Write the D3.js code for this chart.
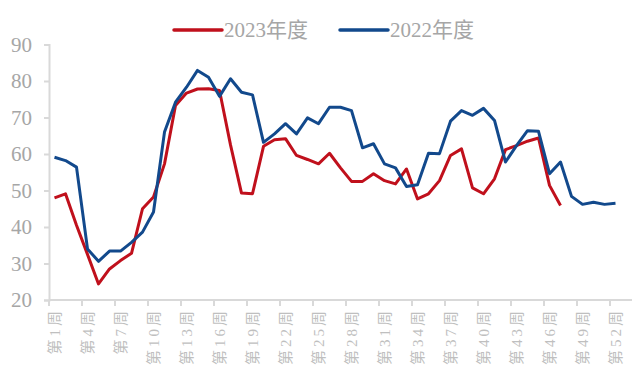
<!DOCTYPE html>
<html>
<head>
<meta charset="utf-8">
<script src="https://cdn.jsdelivr.net/npm/d3@7"></script>
<style>
	body { margin: 0; background: #fff; }
	text { font-family: "Liberation Serif", "Noto Sans CJK SC", serif; }
</style>
</head>
<body>
<svg id="chart" width="643" height="370"></svg>
<script>
// weekly values, 53 weeks on the axis
const weeks = d3.range(1, 54);
const weekLabels = weeks.map(w => `第${w}周`);
const labelWeeks = [1, 4, 7, 10, 13, 16, 19, 22, 25, 28, 31, 34, 37, 40, 43, 46, 49, 52];
const yTicks = [20, 30, 40, 50, 60, 70, 80, 90];

const series2023 = [48.0, 49.1, 40.5, 32.5, 24.4, 28.5, 30.8, 32.8, 45.0, 48.2,
	57.3, 73.3, 76.7, 77.8, 77.9, 77.4, 62.5, 49.3, 49.1, 62.1,
	63.9, 64.2, 59.6, 58.5, 57.3, 60.2, 56.2, 52.5, 52.5, 54.6,
	52.7, 51.8, 55.9, 47.7, 49.1, 52.7, 59.6, 61.4, 50.7, 49.1,
	53.2, 61.2, 62.3, 63.5, 64.4, 51.4, 45.9];
const series2022 = [59.1, 58.2, 56.4, 34.0, 30.6, 33.4, 33.4, 35.8, 38.6, 44.1,
	66.0, 74.2, 78.3, 82.9, 81.0, 75.8, 80.6, 76.9, 76.2, 63.2,
	65.5, 68.3, 65.5, 69.9, 68.3, 72.8, 72.8, 71.9, 61.7, 62.8,
	57.3, 56.2, 51.1, 51.6, 60.2, 60.1, 69.0, 71.9, 70.6, 72.5,
	69.2, 57.8, 62.3, 66.4, 66.2, 54.6, 57.8, 48.4, 46.2, 46.8,
	46.2, 46.5];
const seriesNames = ["2023年度", "2022年度"];
const seriesColors = ["#c0101c", "#12498c"];

whenReady(() => {
	const svg = d3.select("#chart");
	const axisColor = "#d9d9d9";

	const x = d3.scaleBand().domain(weeks).range([49, 632]).padding(0);
	const y = d3.scaleLinear().domain([20, 90]).range([300, 44.5]);

	// y axis
	const yAxis = svg.append("g")
		.attr("transform", "translate(49,0)")
		.call(d3.axisLeft(y).tickValues(yTicks).tickSize(5).tickPadding(12));
	yAxis.select(".domain").attr("stroke", axisColor).attr("stroke-width", 2);
	yAxis.selectAll(".tick line").attr("stroke", axisColor).attr("stroke-width", 2);
	yAxis.selectAll(".tick text")
		.attr("fill", "#a6a6a6")
		.style("font-size", "21px");

	// x axis line + tick marks on category boundaries every 3 weeks
	const xAxis = svg.append("g").attr("transform", "translate(0,300)");
	xAxis.append("line")
		.attr("x1", x.range()[0]).attr("x2", x.range()[1])
		.attr("stroke", axisColor).attr("stroke-width", 2);
	xAxis.selectAll("line.tk")
		.data(labelWeeks)
		.join("line")
		.attr("class", "tk")
		.attr("x1", d => x(d)).attr("x2", d => x(d))
		.attr("y1", 0).attr("y2", 6)
		.attr("stroke", axisColor).attr("stroke-width", 2);
	xAxis.selectAll("text")
		.data(labelWeeks)
		.join("text")
		.attr("transform", d => `translate(${x(d) + x.bandwidth() / 2},8) rotate(-90)`)
		.attr("text-anchor", "end")
		.attr("dy", "0.35em")
		.attr("fill", "#bfbfbf")
		.style("font-size", "15px")
		.style("letter-spacing", "3px")
		.text(d => weekLabels[d - 1]);

	// lines
	const line = d3.line()
		.x((d, i) => x(weeks[i]) + x.bandwidth() / 2)
		.y(d => y(d));
	[series2023, series2022].forEach((s, i) => {
		svg.append("path")
			.datum(s)
			.attr("d", line)
			.attr("fill", "none")
			.attr("stroke", seriesColors[i])
			.attr("stroke-width", 3)
			.attr("stroke-linejoin", "round");
	});

	// legend
	const legend = svg.append("g").attr("transform", "translate(174,30)");
	seriesNames.forEach((name, i) => {
		const g = legend.append("g").attr("transform", `translate(${i * 166},0)`);
		g.append("line")
			.attr("x1", 0).attr("x2", 48)
			.attr("stroke", seriesColors[i]).attr("stroke-width", 3.5)
			.attr("stroke-linecap", "round");
		g.append("text")
			.attr("x", 50).attr("dy", "0.35em")
			.attr("fill", "#a6a6a6")
			.style("font-size", "21px")
			.text(name);
	});
});

function whenReady(action) {
	if (document.readyState === "loading") {
		document.addEventListener("DOMContentLoaded", action);
	} else {
		action();
	}
}
</script>
</body>
</html>
